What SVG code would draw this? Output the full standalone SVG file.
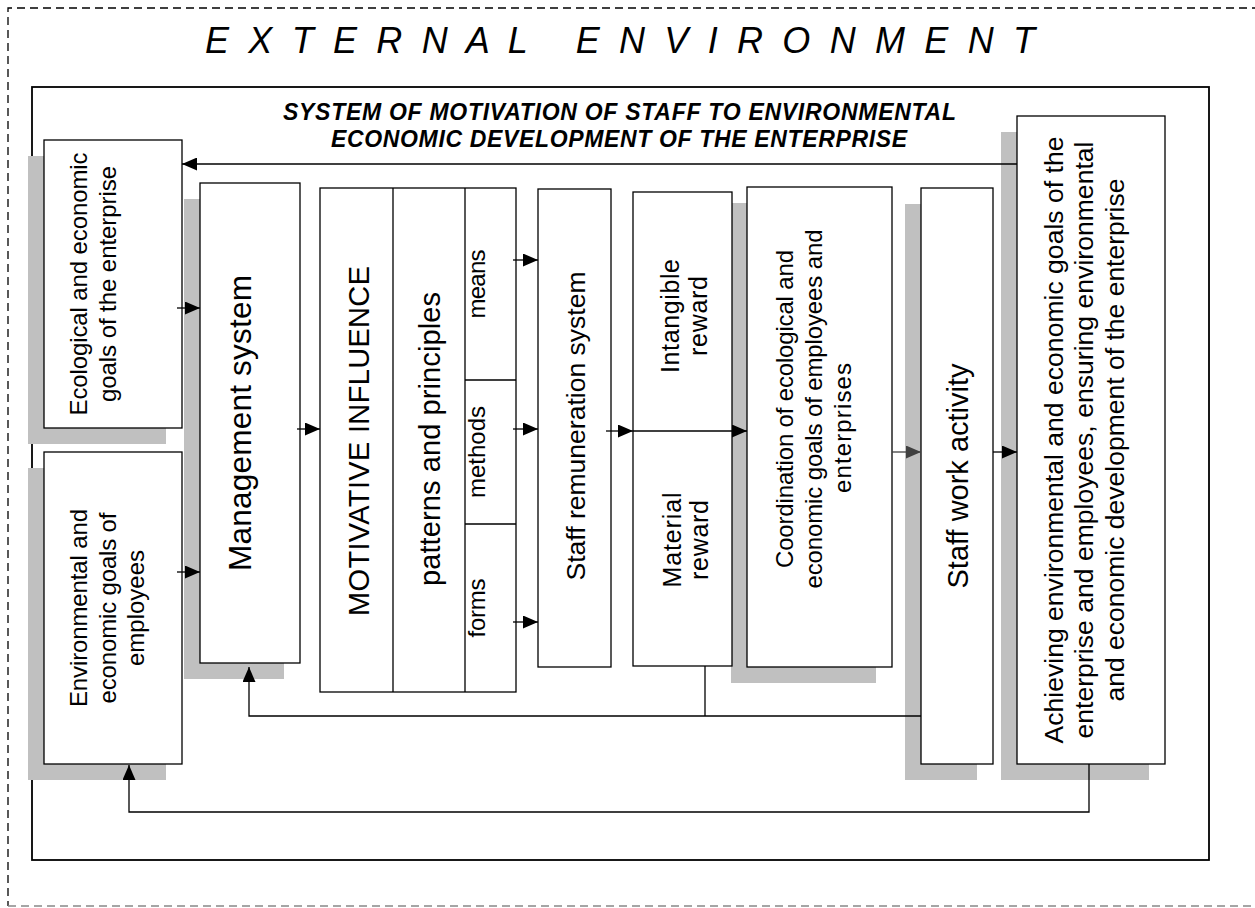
<svg xmlns="http://www.w3.org/2000/svg" width="1255" height="908" viewBox="0 0 1255 908">
<defs>
<style>
.box{fill:#fff;stroke:#000;stroke-width:1.3}
.sh{fill:#c0c0c0;stroke:none}
.t{font-family:"Liberation Sans",Arial,sans-serif;fill:#000}
.ln{fill:none;stroke:#000;stroke-width:1.3}
.lg{fill:none;stroke:#404040;stroke-width:1.3}
</style>
<marker id="ah" markerUnits="userSpaceOnUse" markerWidth="15" markerHeight="13" refX="15" refY="6.5" orient="auto"><path d="M0,0 L15,6.5 L0,13 z" fill="#000"/></marker>
<marker id="ahg" markerUnits="userSpaceOnUse" markerWidth="15" markerHeight="13" refX="15" refY="6.5" orient="auto"><path d="M0,0 L15,6.5 L0,13 z" fill="#404040"/></marker>
</defs>
<rect width="1255" height="908" fill="#fff"/>
<g id="external-environment">
<path d="M1260,8 H8 V906" fill="none" stroke="#000" stroke-width="1.3" stroke-dasharray="8,5"/>
<path d="M8,906 H1260" fill="none" stroke="#888" stroke-width="1.3" stroke-dasharray="8,5"/>
<text class="t" x="205" y="53" font-size="36" font-style="italic" xml:space="preserve" textLength="830" lengthAdjust="spacing">E X T E R N A L   E N V I R O N M E N T</text>
</g>
<g id="system-frame">
<rect x="32" y="87" width="1177" height="773" fill="none" stroke="#000" stroke-width="1.8"/>
<text class="t" x="283" y="120" font-size="23" font-weight="bold" font-style="italic" textLength="673" lengthAdjust="spacing">SYSTEM OF MOTIVATION OF STAFF TO ENVIRONMENTAL</text>
<text class="t" x="331" y="147" font-size="23" font-weight="bold" font-style="italic" textLength="576" lengthAdjust="spacing">ECONOMIC DEVELOPMENT OF THE ENTERPRISE</text>
</g>
<g id="shadows">
<rect class="sh" x="28" y="156" width="138" height="288"/>
<rect class="sh" x="28" y="468" width="138" height="312"/>
<rect class="sh" x="184" y="199" width="100" height="480"/>
<rect class="sh" x="731" y="203" width="145" height="480"/>
<rect class="sh" x="905" y="204" width="72" height="576"/>
<rect class="sh" x="1001" y="132" width="148" height="648"/>
</g>
<g id="enterprise-goals">
<rect class="box" x="44" y="140" width="138" height="288"/>
<text class="t" font-size="24" text-anchor="middle" transform="translate(87,284) rotate(-90)" textLength="263" lengthAdjust="spacing">Ecological and economic</text>
<text class="t" font-size="24" text-anchor="middle" transform="translate(116,284) rotate(-90)" textLength="236" lengthAdjust="spacing">goals of the enterprise</text>
</g>
<g id="employee-goals">
<rect class="box" x="44" y="452" width="138" height="312"/>
<text class="t" font-size="24" text-anchor="middle" transform="translate(87,608) rotate(-90)" textLength="198" lengthAdjust="spacing">Environmental and</text>
<text class="t" font-size="24" text-anchor="middle" transform="translate(116,608) rotate(-90)" textLength="191" lengthAdjust="spacing">economic goals of</text>
<text class="t" font-size="24" text-anchor="middle" transform="translate(144,608) rotate(-90)" textLength="116" lengthAdjust="spacing">employees</text>
</g>
<g id="management-system">
<rect class="box" x="200" y="183" width="100" height="480"/>
<text class="t" font-size="31.5" text-anchor="middle" transform="translate(251,423) rotate(-90)" textLength="296" lengthAdjust="spacing">Management system</text>
</g>
<g id="motivative-influence">
<rect class="box" x="320" y="188" width="196" height="504"/>
<path class="ln" d="M393,188 V692 M465,188 V692 M465,380 H516 M465,524 H516"/>
<text class="t" font-size="29" text-anchor="middle" transform="translate(369,441) rotate(-90)" textLength="350" lengthAdjust="spacing">MOTIVATIVE INFLUENCE</text>
<text class="t" font-size="29" text-anchor="middle" transform="translate(440,439) rotate(-90)" textLength="294" lengthAdjust="spacing">patterns and principles</text>
<text class="t" font-size="24" text-anchor="middle" transform="translate(485,284) rotate(-90)" textLength="69" lengthAdjust="spacing">means</text>
<text class="t" font-size="24" text-anchor="middle" transform="translate(485,452) rotate(-90)" textLength="92" lengthAdjust="spacing">methods</text>
<text class="t" font-size="24" text-anchor="middle" transform="translate(485,608) rotate(-90)" textLength="59" lengthAdjust="spacing">forms</text>
</g>
<g id="remuneration-system">
<rect class="box" x="538" y="189" width="73" height="478"/>
<text class="t" font-size="26.5" text-anchor="middle" transform="translate(585,426) rotate(-90)" textLength="309" lengthAdjust="spacing">Staff remuneration system</text>
</g>
<g id="reward">
<rect class="box" x="633" y="192" width="99" height="474"/>
<text class="t" font-size="25" text-anchor="middle" transform="translate(679,316) rotate(-90)" textLength="114" lengthAdjust="spacing">Intangible</text>
<text class="t" font-size="25" text-anchor="middle" transform="translate(707,316) rotate(-90)" textLength="80" lengthAdjust="spacing">reward</text>
<text class="t" font-size="25" text-anchor="middle" transform="translate(681,540) rotate(-90)" textLength="95" lengthAdjust="spacing">Material</text>
<text class="t" font-size="25" text-anchor="middle" transform="translate(708,540) rotate(-90)" textLength="80" lengthAdjust="spacing">reward</text>
</g>
<g id="coordination">
<rect class="box" x="747" y="187" width="145" height="480"/>
<text class="t" font-size="24" text-anchor="middle" transform="translate(793,409) rotate(-90)" textLength="318" lengthAdjust="spacing">Coordination of ecological and</text>
<text class="t" font-size="24" text-anchor="middle" transform="translate(822,409) rotate(-90)" textLength="359" lengthAdjust="spacing">economic goals of employees and</text>
<text class="t" font-size="24" text-anchor="middle" transform="translate(851,428) rotate(-90)" textLength="130" lengthAdjust="spacing">enterprises</text>
</g>
<g id="staff-work-activity">
<rect class="box" x="921" y="188" width="72" height="576"/>
<text class="t" font-size="29" text-anchor="middle" transform="translate(968,476) rotate(-90)" textLength="225" lengthAdjust="spacing">Staff work activity</text>
</g>
<g id="achieving-goals">
<rect class="box" x="1017" y="116" width="148" height="648"/>
<text class="t" font-size="26.5" text-anchor="middle" transform="translate(1063,440) rotate(-90)" textLength="607" lengthAdjust="spacing">Achieving environmental and economic goals of the</text>
<text class="t" font-size="26.5" text-anchor="middle" transform="translate(1093,440) rotate(-90)" textLength="597" lengthAdjust="spacing">enterprise and employees, ensuring environmental</text>
<text class="t" font-size="26.5" text-anchor="middle" transform="translate(1124,440) rotate(-90)" textLength="523" lengthAdjust="spacing">and economic development of the enterprise</text>
</g>
<g id="connectors">
<path class="ln" d="M1017,164 H182" marker-end="url(#ah)"/>
<path class="ln" d="M177,308 H200" marker-end="url(#ah)"/>
<path class="ln" d="M177,572 H200" marker-end="url(#ah)"/>
<path class="ln" d="M297,429 H320" marker-end="url(#ah)"/>
<path class="ln" d="M513,260 H538" marker-end="url(#ah)"/>
<path class="ln" d="M513,429 H538" marker-end="url(#ah)"/>
<path class="ln" d="M513,622 H538" marker-end="url(#ah)"/>
<path class="ln" d="M606,431 H633" marker-end="url(#ah)"/>
<path class="ln" d="M633,431 H747" marker-end="url(#ah)"/>
<path class="lg" d="M892,452 H921" marker-end="url(#ahg)"/>
<path class="ln" d="M993,452 H1017" marker-end="url(#ah)"/>
<path class="ln" d="M921,716 H249 V667" marker-end="url(#ah)"/>
<path class="ln" d="M705,666 V716"/>
<path class="ln" d="M1089,764 V812 H129 V765" marker-end="url(#ah)"/>
</g>
</svg>
